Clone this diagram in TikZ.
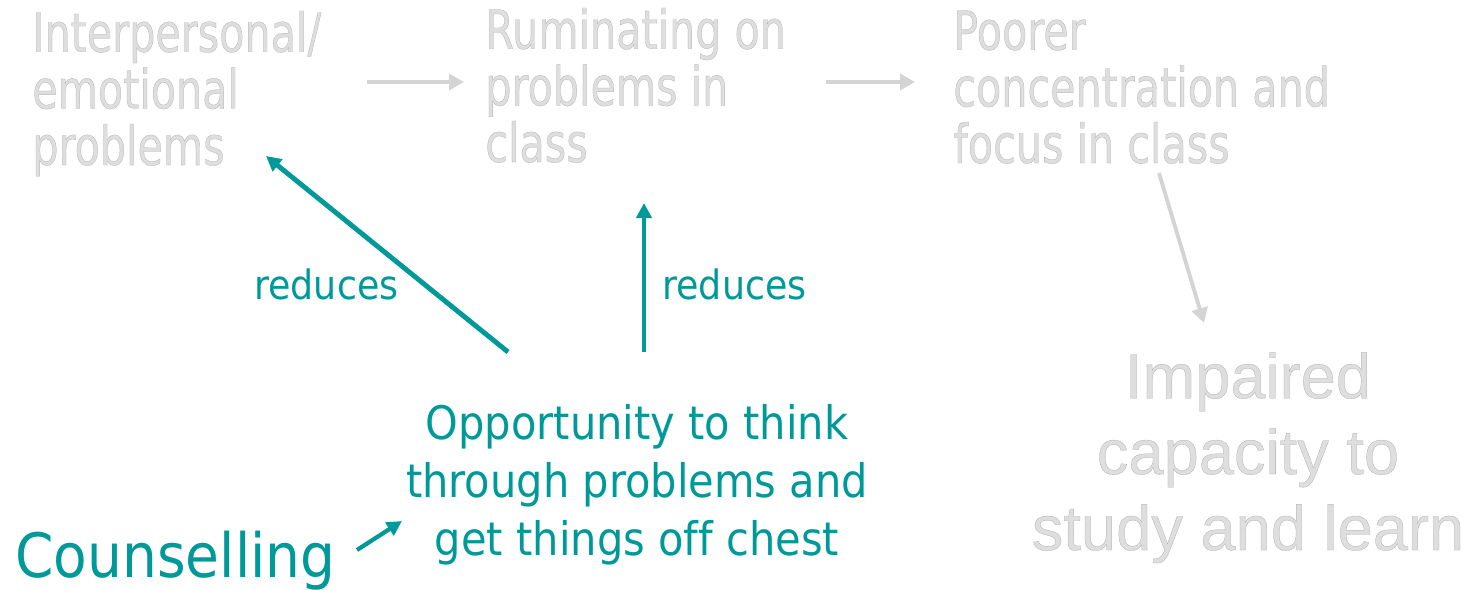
\documentclass[tikz,border=0pt]{standalone}
\usepackage{fontspec}
\usepackage{tikz}
\usetikzlibrary{arrows.meta}
\newfontfamily\fadedfont[FakeStretch=0.765,FakeBold=0.4]{DejaVu Sans}
\newfontfamily\tealfont[FakeStretch=0.9,Ligatures=NoCommon]{DejaVu Sans}
\newfontfamily\plainfont[FakeBold=0.4]{Liberation Sans}
\definecolor{counselteal}{RGB}{0,153,153}
\definecolor{fadedgrey}{RGB}{222,222,222}
\definecolor{fadedline}{RGB}{212,212,212}
\newcommand{\outlined}{\special{pdf:code 0.66 G}}
\newcommand{\fadedtip}{-{Triangle[length=3mm,width=3.2mm]}}
\newcommand{\tealtip}{-{Triangle[length=3mm,width=3mm]}}

\begin{document}
\begin{tikzpicture}[x=0.02cm,y=-0.02cm,
    faded/.style={font=\fadedfont\fontsize{30.7}{32.2}\selectfont,text=fadedgrey,align=left,inner sep=0pt,anchor=base west},
    fadedarrow/.style={\fadedtip,draw=fadedline,line width=2.2pt},
    tealarrow/.style={\tealtip,draw=counselteal,line width=2.8pt}]
    \useasboundingbox (0,0) rectangle (1484,589);
    \coordinate (row) at (0,82);
    \node[faded] (interp) at (32,165) {\outlined Interpersonal/\\emotional\\problems};
    \node[faded] (rumin) at (485,162) {\outlined Ruminating on\\problems in\\class};
    \node[faded] (poorer) at (953,163) {\outlined Poorer\\concentration and\\focus in class};
    \node[font=\plainfont\fontsize{36}{43.2}\selectfont,text=fadedgrey,align=center,inner sep=0pt,anchor=base] (impaired) at (1248,550)
        {\outlined Impaired\\capacity to\\study and learn};
    \node[font=\tealfont\fontsize{26.3}{33}\selectfont,text=counselteal,align=center,inner sep=0pt,anchor=base] (opp) at (637,555)
        {Opportunity to think\\through problems and\\get things off chest};
    \node[font=\tealfont\fontsize{34.8}{40}\selectfont,text=counselteal,inner sep=0pt,anchor=base west] (counsel) at (15,577) {Counselling};
    \node[font=\tealfont\fontsize{23}{28}\selectfont,text=counselteal,inner sep=0pt,anchor=base west] (red1) at (254,299) {reduces};
    \node[font=\tealfont\fontsize{23}{28}\selectfont,text=counselteal,inner sep=0pt,anchor=base west] (red2) at (662,299) {reduces};
    \coordinate (drop1) at (1159,173);
    \coordinate (drop2) at (1204,323);
    \coordinate (back1) at (508,352);
    \coordinate (back2) at (266,156);
    \coordinate (up1) at (644,352);
    \coordinate (up2) at (644,203);
    \coordinate (lead1) at (357,550);
    \coordinate (lead2) at (402,521);
    \draw[fadedarrow,shorten <=0.9cm,shorten >=0.42cm] (interp.east |- row) -- (rumin.west |- row);
    \draw[fadedarrow,shorten <=0.8cm,shorten >=0.76cm] (rumin.east |- row) -- (poorer.west |- row);
    \draw[fadedarrow] (drop1) -- (drop2);
    \draw[tealarrow] (back1) -- (back2);
    \draw[tealarrow] (up1) -- (up2);
    \draw[tealarrow,line width=2.4pt] (lead1) -- (lead2);
\end{tikzpicture}
\end{document}
